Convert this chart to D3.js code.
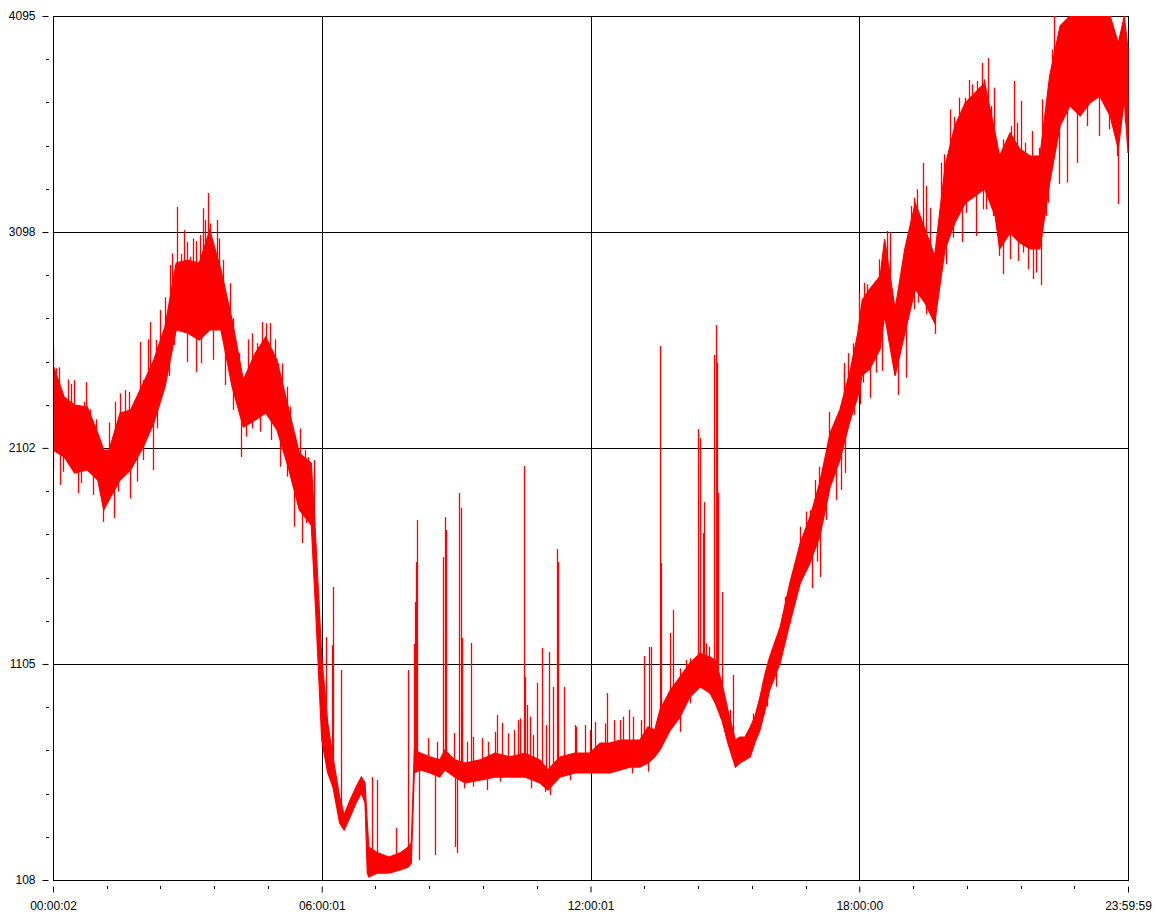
<!DOCTYPE html>
<html>
<head>
<meta charset="utf-8">
<script src="https://cdn.jsdelivr.net/npm/d3@7"></script>
<style>
  html, body { margin: 0; padding: 0; background: #fff; }
  svg { display: block; }
  text { font-family: "Liberation Sans", Arial, sans-serif; font-size: 12px; fill: #000; }
</style>
</head>
<body>
<svg id="chart" width="1160" height="922"></svg>
<script>
// ---------- data ----------
// sample times in minutes after midnight
const minutes = [0,15,29,46,60,68,75,90,104,121,135,150,165,180,196,210,225,240,255,271,285,300,315,330,346,352,360,368,375,384,390,398,406,413,418,421,423,435,450,465,476,480,484,492,505,518,525,538,552,572,592,612,632,652,663,679,699,719,733,746,760,773,786,797,806,813,827,840,853,867,880,887,896,904,914,920,927,934,940,947,954,960,974,987,1001,1014,1027,1041,1054,1068,1078,1084,1094,1108,1114,1128,1141,1155,1168,1181,1195,1208,1222,1235,1248,1262,1268,1282,1295,1309,1322,1335,1349,1362,1376,1389,1402,1416,1427,1435,1440];
// upper edge of the noisy signal band
const highValues = [2485,2337,2300,2291,2171,2092,2092,2263,2277,2401,2508,2660,2955,2969,2955,3108,2923,2692,2415,2540,2614,2508,2291,2078,2032,1677,1137,833,676,491,408,477,537,583,556,371,260,233,214,233,260,279,708,694,676,662,708,662,648,662,694,676,694,662,616,676,694,694,740,740,754,754,754,814,800,893,985,1045,1109,1155,1137,1123,1017,893,754,768,768,814,860,952,1063,1137,1275,1478,1663,1783,1940,2171,2277,2461,2632,2785,2835,2895,3066,2743,3020,3232,3112,2988,3403,3587,3694,3740,3786,3555,3449,3555,3481,3449,3449,3818,4049,4095,4095,4095,4095,4095,3970,4095,3943];
// lower edge of the noisy signal band
const lowValues = [2092,2060,1986,2000,1954,1815,1862,1954,2000,2106,2217,2383,2646,2632,2600,2646,2646,2383,2198,2231,2263,2185,2014,1815,1746,1340,754,602,537,371,339,399,463,510,463,140,122,140,140,154,168,186,602,616,602,583,616,583,556,569,583,583,583,556,523,583,602,602,602,602,616,629,629,648,676,708,800,860,952,999,971,925,846,740,629,648,662,676,740,800,893,985,1109,1294,1478,1571,1691,1921,2046,2231,2337,2438,2466,2558,2711,2434,2632,2835,2771,2678,3020,3140,3232,3264,3297,3172,3020,3094,3048,3020,3020,3324,3587,3680,3634,3694,3726,3634,3481,3712,3463];

// large isolated spikes: time (minutes), value the spike leaves from, value it reaches
const spikeMinutes = [0,28,44,67,82,96,117,130,134,143,166,180,192,208,220,230,252,280,291,334,342,350,366,374,375,386,427,434,459,476,484,485,486,488,490,502,512,522,525,526,537,538,541,544,547,548,560,575,595,601,623,631,632,635,648,655,664,670,675,676,684,699,726,742,792,798,801,813,814,827,831,864,867,871,872,885,888,889,891,896,911,1017,1027,1039,1060,1061,1094,1117,1132,1165,1181,1218,1236,1244,1252,1273,1287,1313,1323,1348,1372,1427];
const spikeBase = [2300,2150,2150,1950,1950,2100,2300,2400,2300,2450,2800,2800,2800,2900,2800,2700,2300,2450,2450,1950,1850,1800,780,650,620,420,180,180,180,200,650,650,650,650,650,650,650,650,650,650,650,630,630,630,630,630,620,640,650,650,650,640,640,640,620,600,600,620,640,640,640,660,660,680,720,720,720,800,800,900,900,1050,1050,1050,1050,1020,1020,1020,1020,950,700,1680,1800,2050,2200,2150,2600,2850,2600,3050,2800,3400,3400,3500,3500,3200,3300,3200,3200,3800,3800,3600];
const spikePeak = [2568,2415,2406,1760,1778,2369,2591,2683,2000,2738,3214,2498,2452,3278,3154,2392,2060,2683,2678,1663,2060,1585,1229,1192,1460,1077,583,569,348,1077,1197,1391,1575,1769,200,763,223,1598,1783,1723,786,260,233,1894,1825,1225,1202,763,869,833,846,2018,1045,916,1017,1179,1160,999,1635,1575,999,823,837,971,1142,1183,1183,2572,1571,1248,1354,2189,2148,1709,1852,2531,2669,2494,1894,1437,1054,1455,1506,2268,2494,1986,2332,3103,2346,3417,2628,3052,3080,3878,3901,2904,3795,2881,2854,3320,3417,3227];

// smaller spikes along the edges of the band: time (minutes), start value, end value
const edgeMinutes = [
  4,8,20,24,41,49,57,75,83,90,102,121,127,138,150,157,160,171,175,179,183,187,192,197,201,204,210,223,228,237,241,249,261,266,273,286,297,301,307,313,317,331,338,350,
  0,10,14,25,33,38,53,87,103,112,120,140,156,162,198,215,241,259,266,277,292,304,314,323,339,
  514,554,563,583,592,610,617,626,639,643,661,701,713,719,550,563,581,599,640,659,666,693,
  739,751,759,763,772,777,788,775,797,840,853,879,893,902,840,848,853,875,879,907,938,951,963,974,981,992,1001,1008,1014,1021,1026,1036,1050,1059,1065,1072,956,969,987,1023,1035,1049,1056,1073,
  1080,1086,1091,1107,1121,1139,1144,1149,1154,1158,1170,1175,1185,1190,1193,1201,1207,1214,1222,1227,1231,1238,1247,1257,1260,1272,1277,1283,1291,1296,1302,1311,1321,1325,1331,1335,1338,1341,
  1081,1085,1103,1110,1124,1142,1154,1159,1169,1196,1206,1223,1246,1250,1259,1267,1282,1292,1299,1306,1317,1330,1333,1358,1385,1401,1415,1425,1436];
const edgeBase = [
  2290,2280,2200,2180,2150,2120,2060,1980,2050,2100,2130,2250,2300,2350,2500,2650,2700,2800,2800,2800,2800,2800,2800,2800,2850,2850,2850,2800,2750,2550,2500,2300,2350,2380,2380,2430,2350,2300,2250,2150,2100,1950,1900,1700,
  2250,2200,2200,2150,2130,2130,2100,2100,2130,2200,2250,2400,2650,2800,2800,2800,2500,2350,2380,2400,2400,2300,2150,1950,1900,
  640,620,620,620,640,640,640,640,640,620,600,650,650,650,620,620,620,640,620,600,600,640,
  680,690,690,690,700,700,700,690,720,950,1030,1050,1000,900,950,1000,1030,1060,1060,750,780,880,1050,1190,1280,1380,1570,1650,1680,1750,1800,1900,2050,2200,2300,2400,1000,1150,1380,1750,1920,2000,2100,2400,
  2500,2600,2600,2700,2850,2600,2750,2900,3000,3000,2950,2900,2900,3100,3200,3300,3350,3400,3450,3450,3450,3500,3500,3400,3400,3250,3250,3300,3300,3250,3250,3250,3250,3300,3350,3500,3550,3600,
  2500,2600,2700,2700,2700,2750,3000,3000,2950,3200,3350,3450,3500,3500,3400,3250,3300,3250,3250,3250,3250,3400,3450,3800,3900,3900,3900,3800,3900];
const edgePeak = [
  2469,2474,2418,2397,2315,2280,2234,2220,2315,2354,2361,2415,2603,2600,2797,2946,3000,2997,3107,3053,2984,3069,3057,3084,3208,3154,3138,3069,2969,2862,2700,2538,2603,2631,2585,2677,2603,2492,2492,2384,2292,2192,2092,2046,
  2008,1931,1992,2023,1892,1939,1885,1900,1869,1946,2046,2192,2434,2577,2492,2508,2277,2154,2192,2177,2138,2015,1969,1738,1754,
  746,746,769,746,792,785,800,854,862,777,823,815,823,800,531,539,523,562,531,515,500,569,
  831,846,846,862,893,862,846,600,608,792,923,969,854,792,1085,1123,1131,1200,1185,893,877,1031,1169,1262,1415,1523,1738,1808,1815,1954,2015,1985,2192,2454,2539,2585,908,1000,1293,1577,1769,1862,1908,2254,
  2818,2864,2857,2972,3095,2880,3011,3218,3257,3295,3311,3210,3134,3418,3457,3664,3630,3718,3718,3800,3780,3795,3803,3680,3764,3526,3518,3587,3603,3703,3510,3564,3487,3711,3711,3803,3941,4095,
  2303,2403,2449,2457,2526,2426,2742,2772,2718,2949,3072,3187,3203,3203,3172,2988,2972,2964,3003,2926,2911,3172,3233,3326,3587,3541,3572,3449,3603];

// axis ticks
const yTicks = [108, 1105, 2102, 3098, 4095];
const xTickSeconds = [2, 21601, 43201, 64800, 86399];
const xTickLabels = ["00:00:02", "06:00:01", "12:00:01", "18:00:00", "23:59:59"];

// ---------- drawing ----------
(function () {
const svg = d3.select("#chart");
const L = 53, R = 1128, T = 16, B = 880;

const x = d3.scaleLinear().domain([2, 86399]).range([L, R]).clamp(true);
const y = d3.scaleLinear().domain([108, 4095]).range([B, T]).clamp(true);
const px = v => Math.round(x(v)) + 0.5;
const py = v => Math.round(y(v)) + 0.5;

svg.append("defs").append("clipPath").attr("id", "plotclip")
  .append("rect").attr("x", L).attr("y", T).attr("width", R - L + 1).attr("height", B - T + 1);

// grid lines
const grid = svg.append("g");
grid.selectAll("line.h").data(yTicks).join("line")
  .attr("x1", L).attr("x2", R + 1)
  .attr("y1", d => py(d)).attr("y2", d => py(d))
  .attr("stroke", "#000").attr("stroke-width", 1);
grid.selectAll("line.v").data(xTickSeconds).join("line")
  .attr("y1", T).attr("y2", B + 1)
  .attr("x1", d => px(d)).attr("x2", d => px(d))
  .attr("stroke", "#000").attr("stroke-width", 1);

const plot = svg.append("g").attr("clip-path", "url(#plotclip)");

// signal band
const n = Math.min(minutes.length, lowValues.length, highValues.length);
const band = d3.range(n).map(i => ({ t: minutes[i] * 60, lo: lowValues[i], hi: highValues[i] }));
const area = d3.area().x(d => x(d.t)).y0(d => y(d.lo)).y1(d => y(d.hi));
plot.append("path").datum(band)
  .attr("d", area)
  .attr("fill", "#ff0000").attr("stroke", "#ff0000").attr("stroke-width", 1.2)
  .attr("stroke-linejoin", "miter");

// edge spikes
const k = Math.min(edgeMinutes.length, edgeBase.length, edgePeak.length);
const edges = d3.range(k).map(i => ({ t: edgeMinutes[i] * 60, b: edgeBase[i], p: edgePeak[i] }));
plot.append("g").selectAll("line").data(edges).join("line")
  .attr("x1", d => px(d.t)).attr("x2", d => px(d.t))
  .attr("y1", d => y(d.b)).attr("y2", d => y(d.p))
  .attr("stroke", "#ff0000").attr("stroke-width", 1.3);

// large spikes
const m = Math.min(spikeMinutes.length, spikeBase.length, spikePeak.length);
const spikes = d3.range(m).map(i => ({ t: spikeMinutes[i] * 60, b: spikeBase[i], p: spikePeak[i] }));
plot.append("g").selectAll("line").data(spikes).join("line")
  .attr("x1", d => px(d.t)).attr("x2", d => px(d.t))
  .attr("y1", d => y(d.b)).attr("y2", d => y(d.p))
  .attr("stroke", "#ff0000").attr("stroke-width", 1.3);

// frame: left axis line and bottom line
svg.append("line").attr("x1", L + 0.5).attr("x2", L + 0.5).attr("y1", T).attr("y2", B + 1)
  .attr("stroke", "#000");
svg.append("line").attr("x1", L).attr("x2", R + 1).attr("y1", B + 0.5).attr("y2", B + 0.5)
  .attr("stroke", "#000");

// Y axis (ticks detached from the axis line)
const yAxis = svg.append("g").attr("transform", `translate(${L + 0.5},0)`)
  .call(d3.axisLeft(y).tickValues(yTicks).tickSize(11).tickPadding(7).tickFormat(d3.format("d")));
yAxis.select(".domain").remove();
yAxis.selectAll(".tick line").attr("x1", -5).attr("stroke", "#000");
yAxis.selectAll(".tick text").style("font-family", "'Liberation Sans', Arial, sans-serif").style("font-size", "12px").attr("fill", "#000");

// Y minor ticks
const yMinor = [];
for (let i = 0; i < yTicks.length - 1; i++) {
  for (let j = 1; j < 5; j++) yMinor.push(yTicks[i] + (yTicks[i + 1] - yTicks[i]) * j / 5);
}
svg.append("g").selectAll("line").data(yMinor).join("line")
  .attr("x1", L - 7).attr("x2", L - 4)
  .attr("y1", d => py(d)).attr("y2", d => py(d))
  .attr("stroke", "#000");

// X axis
const xAxis = svg.append("g").attr("transform", `translate(0,${B + 0.5})`)
  .call(d3.axisBottom(x).tickValues(xTickSeconds).tickSize(12).tickPadding(9)
    .tickFormat((d, i) => xTickLabels[i]));
xAxis.select(".domain").remove();
xAxis.selectAll(".tick line").attr("y1", 6).attr("stroke", "#000");
xAxis.selectAll(".tick text").style("font-family", "'Liberation Sans', Arial, sans-serif").style("font-size", "12px").attr("fill", "#000");

// X minor ticks
const xMinor = [];
for (let i = 0; i < xTickSeconds.length - 1; i++) {
  for (let j = 1; j < 5; j++) xMinor.push(xTickSeconds[i] + (xTickSeconds[i + 1] - xTickSeconds[i]) * j / 5);
}
svg.append("g").selectAll("line").data(xMinor).join("line")
  .attr("x1", d => px(d)).attr("x2", d => px(d))
  .attr("y1", B + 6).attr("y2", B + 9)
  .attr("stroke", "#000");
})();
</script>
</body>
</html>
